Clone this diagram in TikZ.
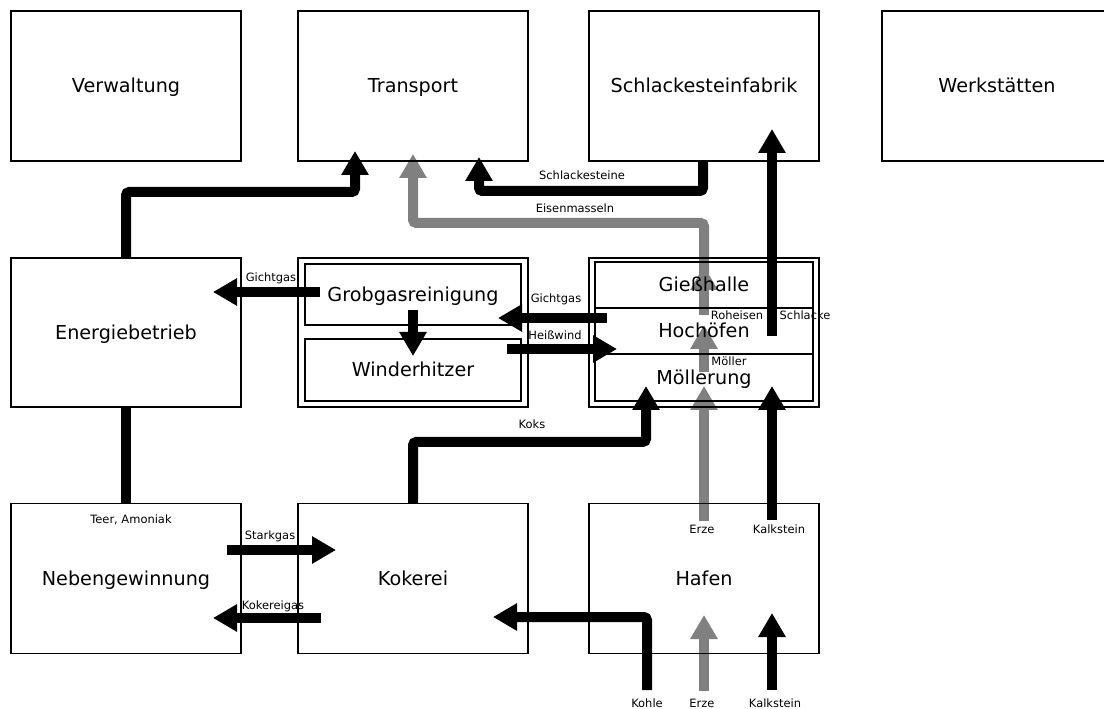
\documentclass[tikz,border=0pt]{standalone}
\usepackage{fontspec}
\setmainfont{DejaVu Sans}
\usetikzlibrary{arrows.meta,backgrounds}
\definecolor{flowgray}{RGB}{128,128,128}
\begin{document}
\begin{tikzpicture}[x=0.75pt,y=-0.75pt,
  box/.style={draw, line width=0.8pt, inner sep=0pt, text height=11.8pt, text depth=2pt, font=\fontsize{14.4}{17}\selectfont},
  bigbox/.style={box, minimum width=172.5pt, minimum height=112.5pt},
  lbl/.style={inner sep=0pt, font=\fontsize{8.6}{10}\selectfont},
  flow/.style={line width=7.5pt, rounded corners=2.5pt, -{Triangle[width=19.5pt,length=18pt]}},
  plain/.style={line width=7.5pt},
  grayflow/.style={flow, draw=flowgray, color=flowgray}]
\useasboundingbox (0,0) rectangle (1104,709);
% top row
\node[bigbox] (verw) at (126,86) {Verwaltung};
\node[bigbox] (trans) at (413,86) {Transport};
\node[bigbox] (schl) at (704,86) {Schlackesteinfabrik};
\node[bigbox] (werk) at (997,86) {Werkstätten};
% middle row
\node[bigbox, minimum height=111.75pt] (ener) at (126,332.5) {Energiebetrieb};
\node[bigbox, minimum height=111.75pt] (mid) at (413,332.5) {};
\node[box, minimum width=162pt, minimum height=45.75pt] (grob) at (413,294.5) {Grobgasreinigung};
\node[box, minimum width=162pt, minimum height=46.5pt] (wind) at (413,370) {Winderhitzer};
\node[bigbox, minimum height=111.75pt] (hoch3) at (704,332.5) {};
\node[box, minimum width=163.5pt, minimum height=34.5pt] (gies) at (704,285) {Gießhalle};
\node[box, minimum width=163.5pt, minimum height=34.5pt] (hoch) at (704,331) {Hochöfen};
\node[box, minimum width=163.5pt, minimum height=35.25pt] (moel) at (704,377.5) {Möllerung};
% bottom row
\node[bigbox] (neben) at (126,578.5) {Nebengewinnung};
\node[bigbox] (koke) at (413,578.5) {Kokerei};
\node[bigbox] (hafen) at (704,578.5) {Hafen};
% free ends
\coordinate (kohleIn) at (647,690);
\coordinate (erzeIn) at (704,691);
\coordinate (kalkIn) at (772,690);
% labels
\node[lbl] (lschl) at (582,175) {Schlackesteine};
\node[lbl] (leisen) at (575,208) {Eisenmasseln};
\node[lbl] (lgicht1) at (271,278) {Gichtgas};
\node[lbl] (lgicht2) at (556,299) {Gichtgas};
\node[lbl] (lheiss) at (555,335) {Heißwind};
\node[lbl] (lroh) at (737,315) {Roheisen};
\node[lbl] (lschlacke) at (805,315) {Schlacke};
\node[lbl] (lmoel) at (729,361) {Möller};
\node[lbl] (lkoks) at (532,424) {Koks};
\node[lbl] (lteer) at (131,520) {Teer, Amoniak};
\node[lbl] (lstark) at (270,536) {Starkgas};
\node[lbl] (lkokgas) at (273,606) {Kokereigas};
\node[lbl] (lerze1) at (702,529) {Erze};
\node[lbl] (lkalk1) at (779,529) {Kalkstein};
\node[lbl] (lkohle) at (647,703) {Kohle};
\node[lbl] (lerze2) at (702,703) {Erze};
\node[lbl] (lkalk2) at (775,703) {Kalkstein};
\begin{pgfonlayer}{background}
% Energiebetrieb -> Transport
\draw[flow] (ener.north) -- (126,192) -- (355,192) -- (355,151);
% Schlackesteine
\draw[flow] (schl.south -| 703,0) -- (703,191) -- (479,191) -- (479,157);
% Eisenmasseln
\draw[grayflow] (704,275) -- (704,223) -- (413,223) -- (413,154);
% Schlacke
\draw[flow] (772,336) -- (772,129);
% Gichtgas -> Energiebetrieb
\draw[flow] (320,292) -- (213,292);
% Grobgasreinigung -> Winderhitzer
\draw[flow] (413,310) -- (413,356);
% Gichtgas from Hochöfen
\draw[flow] (607,318) -- (498,318);
% Heißwind
\draw[flow] (507,349) -- (617,349);
% Koks
\draw[flow] (koke.north) -- (413,442) -- (646,442) -- (646,386);
% Teer, Amoniak
\draw[plain] (ener.south) -- (neben.north);
% Starkgas / Kokereigas
\draw[flow] (227,550) -- (336,550);
\draw[flow] (321,618) -- (213,618);
% Kohle
\draw[flow] (kohleIn) -- (647,617) -- (493,617);
% Erze, Kalkstein into Hafen
\draw[grayflow] (erzeIn) -- (704,615);
\draw[flow] (kalkIn) -- (772,613);
% Hafen -> Möllerung
\draw[grayflow] (704,521) -- (704,386);
\draw[flow] (772,520) -- (772,386);
% Möller, Roheisen
\draw[grayflow] (704,372) -- (704,325);
\draw[grayflow] (704,315) -- (704,266);
\end{pgfonlayer}
\end{tikzpicture}
\end{document}
